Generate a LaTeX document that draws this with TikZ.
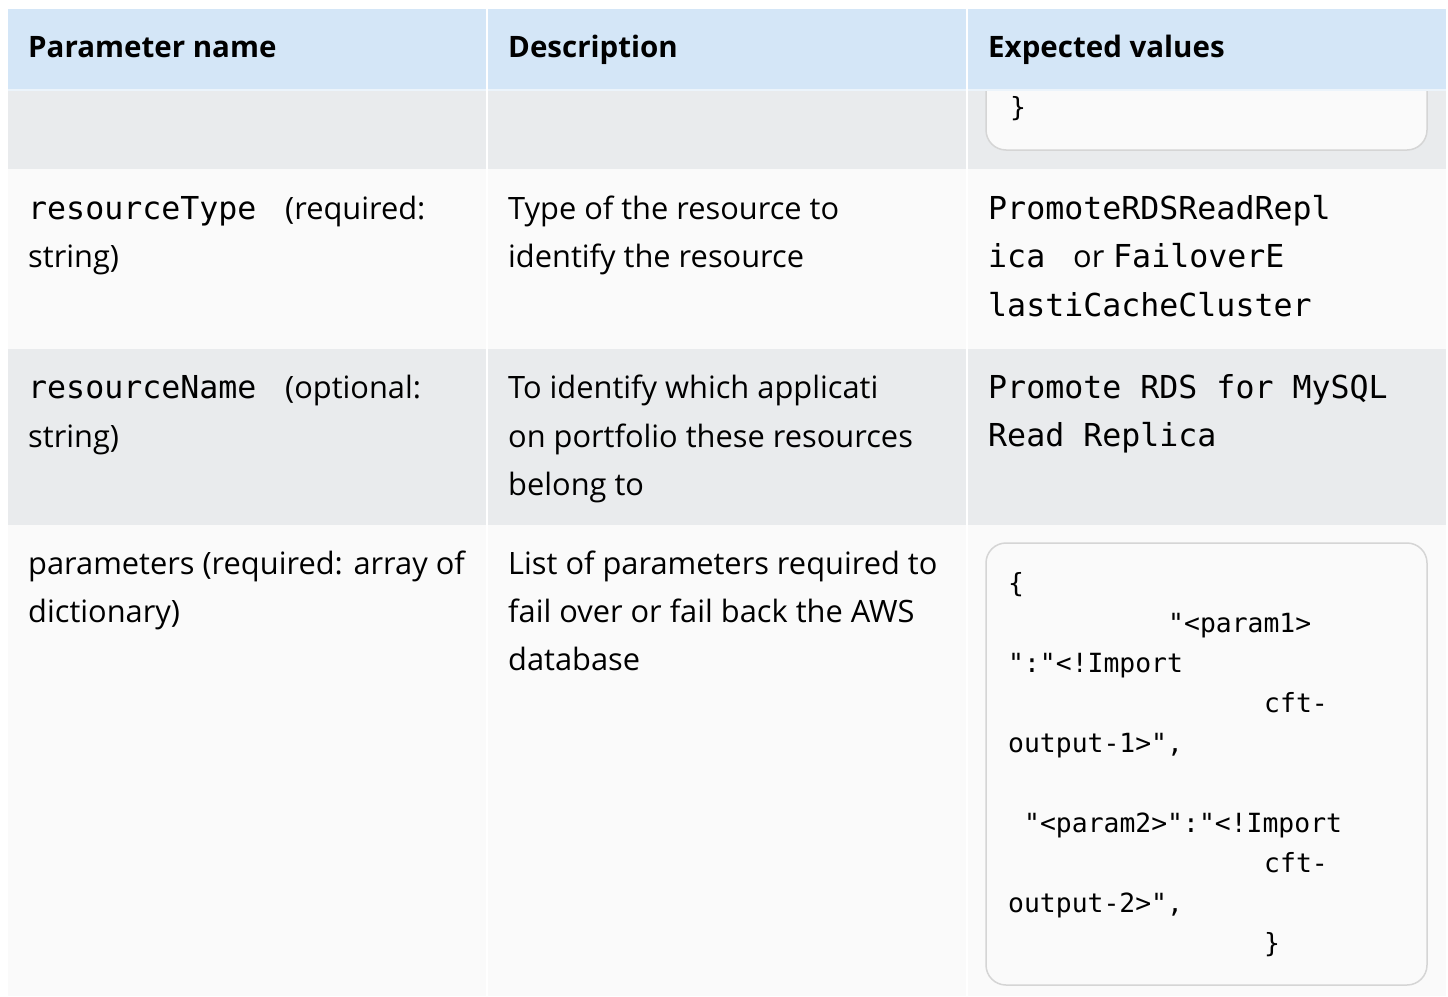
\documentclass[tikz,border=0pt]{standalone}
\usepackage{fontspec}
\setmainfont{Open Sans}
\setmonofont{DejaVu Sans Mono}
\usetikzlibrary{positioning}
\definecolor{hdr}{HTML}{D4E6F7}
\definecolor{rowgray}{HTML}{E9EBED}
\definecolor{rowlight}{HTML}{FAFAFA}
\definecolor{boxline}{HTML}{D5D5D5}
\tikzset{
  cell/.style={anchor=base west,inner sep=0pt,font=\fontsize{30.8}{36}\selectfont},
  head/.style={cell,font=\fontsize{29.5}{34}\selectfont\bfseries},
  mono/.style={cell,font=\fontsize{31.6}{38}\selectfont\ttfamily},
  code/.style={cell,font=\fontsize{26.4}{30}\selectfont\ttfamily},
  codebox/.style={draw=boxline,line width=1.5pt,fill=rowlight,rounded corners=20pt},
  divider/.style={white,line width=2pt}
}
\newcommand{\cw}{16} % width of one code character

\begin{document}
\begin{tikzpicture}[x=1pt,y=-1pt]
  \useasboundingbox (0,0) rectangle (1448,996);
  % rows
  \fill[rowgray]  (8,90)  rectangle (1446,169);
  \fill[rowlight] (8,169) rectangle (1446,349);
  \fill[rowgray]  (8,349) rectangle (1446,525);
  \fill[rowlight] (8,525) rectangle (1446,996);
  \draw[codebox] (986,30) rectangle (1427,150);
  % header
  \fill[hdr] (8,9) rectangle (1446,89);
  \draw[white!55!hdr,line width=1.5pt] (8,89.8) -- (1446,89.8);
  \draw[divider] (487,9) -- (487,996);
  \draw[divider] (967,9) -- (967,996);
  \node[head] (hname) at (28,57)  {Parameter name};
  \node[head] (hdesc) at (508,57) {Description};
  \node[head] (hval)  at (988,57) {Expected values};
  % row 1
  \node[code] (endbrace) at (1010,116) {\}};
  % row 2
  \node[mono] (typekey)  at (28,219)  {resourceType};
  \node[cell] (typereq)  at (285,219) {(required:};
  \node[cell] (typestr)  at (28,267)  {string)};
  \node[cell] (typedesa) at (508,219) {Type of the resource to};
  \node[cell] (typedesb) at (508,267) {identify the resource};
  \node[mono] (typevala) at (988,219) {PromoteRDSReadRepl};
  \node[mono] (typevalb) at (988,267) {ica};
  \node[cell] (typeor)   at (1073,267) {or};
  \node[mono] (typevalc) at (1113,267) {FailoverE};
  \node[mono] (typevald) at (988,316) {lastiCacheCluster};
  % row 3
  \node[mono] (namekey)  at (28,398)  {resourceName};
  \node[cell] (nameopt)  at (285,398) {(optional:};
  \node[cell] (namestr)  at (28,447)  {string)};
  \node[cell] (namedesa) at (508,398) {To identify which applicati};
  \node[cell] (namedesb) at (508,447) {on portfolio these resources};
  \node[cell] (namedesc) at (508,495) {belong to};
  \node[mono] (namevala) at (988,398) {Promote RDS for MySQL};
  \node[mono] (namevalb) at (988,446) {Read Replica};
  % row 4
  \node[cell] (parkeya)  at (28,574)  {parameters (required: array of};
  \node[cell] (parkeyb)  at (28,622)  {dictionary)};
  \node[cell] (pardesa)  at (508,574) {List of parameters required to};
  \node[cell] (pardesb)  at (508,622) {fail over or fail back the AWS};
  \node[cell] (pardesc)  at (508,670) {database};
  \draw[codebox] (986,543) rectangle (1427,985);
  \node[code] (pca) at (1008,592) {\{};
  \node[code] (pcb) at (1008+10*\cw,632) {"<param1>};
  \node[code] (pcc) at (1008,672) {":"<!Import};
  \node[code] (pcd) at (1008+16*\cw,712) {cft-};
  \node[code] (pce) at (1008,752) {output-1>",};
  \node[code] (pcf) at (1008+1*\cw,832) {"<param2>":"<!Import};
  \node[code] (pcg) at (1008+16*\cw,872) {cft-};
  \node[code] (pch) at (1008,912) {output-2>",};
  \node[code] (pci) at (1008+16*\cw,952) {\}};
\end{tikzpicture}
\end{document}
